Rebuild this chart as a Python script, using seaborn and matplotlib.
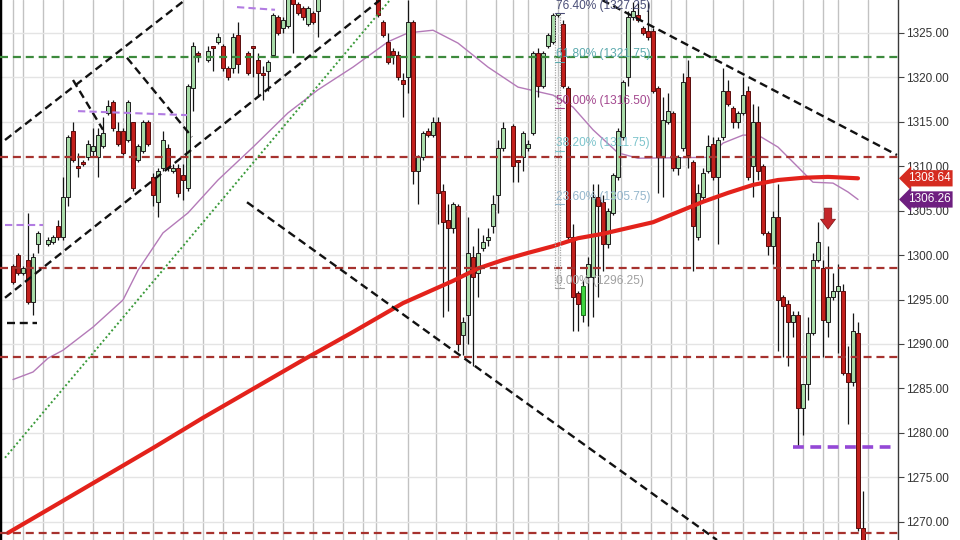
import numpy as np
import pandas as pd
import matplotlib
matplotlib.use("Agg")
import matplotlib.pyplot as plt
import seaborn as sns

# ---------------- data (bar number, OHLC) ----------------
bars = [2, 3, 4, 5, 6, 7, 9, 10, 11, 12, 13, 14, 15, 16, 17, 18, 19, 20, 21, 22,
        23, 24, 25, 26, 27, 28, 29, 30, 31, 32, 33, 34, 35, 36, 37, 38, 39, 41, 42, 43,
        44, 45, 46, 47, 49, 50, 51, 52, 53, 54, 55, 56, 57, 58, 59, 60, 61, 62, 63,
        75, 76, 77, 78, 79, 80, 81, 82, 83, 84, 85, 86, 87, 88, 89, 90, 91, 92, 93, 94,
        95, 96, 97, 98, 99, 100, 102, 103, 104, 105, 106, 107, 108, 109, 110, 111, 112,
        113, 114, 115, 116, 117, 118, 119, 120, 121, 122, 123, 124, 125, 126, 127, 128,
        129, 130, 131, 132, 133, 134, 135, 136, 137, 138, 139, 140, 141, 142, 143, 144,
        145, 146, 147, 148, 149, 150, 151, 152, 153, 154, 155, 156, 157, 158, 159, 160,
        161, 162, 163, 164, 165, 166, 167, 168, 169, 170, 171, 172]
opens = [1298.75, 1300.0, 1298.0, 1299.5, 1294.75, 1301.25, 1301.25, 1301.5, 1303.25, 1302.0,
         1306.5, 1314.0, 1310.0, 1310.5, 1311.0, 1311.75, 1311.0, 1312.25, 1316.0, 1317.25,
         1314.0, 1314.0, 1313.0, 1315.0, 1310.75, 1311.75, 1315.0, 1308.75, 1306.0, 1309.75,
         1312.0, 1309.5, 1309.75, 1309.0, 1307.5, 1318.75, 1322.75, 1322.0, 1323.5, 1324.0,
         1323.5, 1321.0, 1321.0, 1324.75, 1322.75, 1323.5, 1322.0, 1320.5, 1320.75, 1322.5,
         1326.75, 1325.5, 1325.75, 1329.25, 1328.25, 1327.75, 1326.0, 1327.25, 1327.5,
         1329.5, 1326.25, 1324.0, 1323.0, 1322.5, 1319.75, 1320.0, 1326.25, 1309.5, 1311.0,
         1314.0, 1313.5, 1315.0, 1307.25, 1304.0, 1303.0, 1305.5, 1291.0, 1293.25, 1299.75,
         1298.0, 1300.75, 1301.75, 1303.25, 1306.75, 1312.0, 1314.5, 1310.75, 1311.0, 1312.0,
         1313.75, 1322.75, 1319.0, 1323.5, 1324.0, 1327.0, 1326.0, 1318.75, 1302.0, 1295.75,
         1293.25, 1297.5, 1297.5, 1306.5, 1306.0, 1301.25, 1304.75, 1308.75, 1313.25, 1320.0,
         1326.75, 1327.0, 1325.5, 1325.25, 1325.25, 1318.75, 1311.0, 1315.0, 1316.0, 1309.75,
         1312.0, 1320.0, 1310.5, 1302.0, 1306.5, 1309.5, 1312.5, 1308.75, 1313.25, 1318.5,
         1316.5, 1315.0, 1316.0, 1318.5, 1310.0, 1315.0, 1310.0, 1302.5, 1301.0, 1304.25,
         1295.25, 1294.5, 1292.5, 1293.25, 1282.75, 1285.5, 1291.25, 1299.5, 1298.5, 1292.5,
         1295.25, 1296.0, 1296.0, 1286.75, 1285.75, 1291.25, 1269.25]
highs = [1299.0, 1300.25, 1298.75, 1304.75, 1300.25, 1302.75, 1302.0, 1302.25, 1304.0, 1308.75,
         1313.5, 1315.0, 1311.5, 1310.75, 1313.0, 1314.25, 1314.25, 1315.5, 1317.5, 1317.5,
         1315.0, 1314.25, 1317.5, 1315.0, 1312.5, 1315.25, 1315.25, 1309.25, 1309.75, 1314.0,
         1312.5, 1310.25, 1310.25, 1310.25, 1319.25, 1324.0, 1323.0, 1323.5, 1323.5, 1325.0,
         1323.75, 1321.25, 1325.0, 1326.25, 1323.0, 1323.5, 1322.75, 1321.25, 1322.0, 1327.25,
         1327.0, 1326.75, 1329.5, 1329.5, 1328.5, 1328.0, 1328.0, 1327.5, 1330.0,
         1330.0, 1326.5, 1325.0, 1323.25, 1323.0, 1320.5, 1328.75, 1326.5, 1311.25, 1314.0,
         1314.25, 1315.5, 1315.5, 1308.0, 1305.75, 1306.0, 1305.75, 1293.0, 1304.25, 1301.0,
         1303.0, 1302.25, 1303.0, 1306.75, 1313.0, 1315.0, 1314.75, 1310.75, 1314.0, 1313.0,
         1323.0, 1323.25, 1323.0, 1325.0, 1327.25, 1327.25, 1326.5, 1319.0, 1303.5, 1296.0,
         1297.25, 1299.75, 1308.0, 1308.0, 1306.75, 1305.25, 1309.25, 1314.25, 1319.75, 1327.5,
         1328.5, 1328.5, 1325.75, 1328.5, 1325.5, 1319.0, 1317.75, 1318.25, 1316.25, 1311.25,
         1320.5, 1322.0, 1310.75, 1308.0, 1309.75, 1313.5, 1313.25, 1313.25, 1321.0, 1319.75,
         1316.75, 1316.25, 1320.0, 1319.0, 1317.0, 1316.75, 1310.25, 1302.75, 1305.0, 1308.0,
         1295.5, 1295.0, 1293.75, 1293.75, 1285.5, 1293.0, 1300.25, 1303.75, 1299.5, 1301.0,
         1298.0, 1299.0, 1296.75, 1289.75, 1293.5, 1292.5, 1273.5]
lows = [1296.75, 1297.75, 1297.75, 1294.5, 1293.25, 1300.25, 1301.0, 1301.25, 1301.75, 1301.75,
        1305.5, 1310.5, 1308.75, 1310.0, 1310.75, 1311.0, 1308.75, 1312.0, 1315.75, 1314.0,
        1312.25, 1311.25, 1312.75, 1307.25, 1310.5, 1311.5, 1312.25, 1305.5, 1304.25, 1309.5,
        1309.5, 1309.25, 1306.5, 1306.25, 1307.25, 1316.25, 1321.75, 1321.75, 1320.75, 1323.75,
        1320.75, 1319.75, 1320.5, 1320.5, 1320.25, 1320.0, 1317.75, 1317.5, 1318.5, 1322.25,
        1324.75, 1325.0, 1325.5, 1322.75, 1327.0, 1326.5, 1325.75, 1326.0, 1324.5,
        1326.75, 1324.5, 1321.5, 1321.5, 1319.75, 1315.5, 1318.25, 1308.0, 1305.75, 1310.75,
        1313.25, 1313.25, 1303.5, 1293.0, 1293.75, 1302.5, 1289.25, 1288.75, 1290.0, 1287.5,
        1295.25, 1300.5, 1301.0, 1302.5, 1304.75, 1311.75, 1308.25, 1308.25, 1309.5, 1311.75,
        1313.5, 1317.75, 1318.75, 1323.25, 1323.75, 1326.75, 1318.75, 1301.75, 1291.5, 1291.5,
        1292.5, 1292.0, 1293.0, 1295.25, 1298.25, 1300.75, 1304.5, 1308.5, 1313.0, 1319.0,
        1326.5, 1326.25, 1324.75, 1324.25, 1318.25, 1307.0, 1306.5, 1314.75, 1309.5, 1309.0,
        1311.75, 1309.75, 1298.25, 1301.75, 1306.25, 1309.25, 1308.5, 1301.25, 1313.0, 1316.75,
        1314.25, 1314.25, 1315.75, 1308.5, 1306.5, 1308.5, 1302.25, 1300.0, 1299.0, 1289.25,
        1288.5, 1287.5, 1290.75, 1278.5, 1279.75, 1283.75, 1291.0, 1299.25, 1288.5, 1290.75,
        1295.0, 1289.0, 1286.5, 1281.0, 1285.25, 1269.0, 1267.0]
closes = [1297.0, 1298.0, 1298.5, 1294.75, 1299.75, 1302.5, 1301.75, 1302.0, 1302.0, 1306.5,
          1313.25, 1310.75, 1309.75, 1310.25, 1312.5, 1312.25, 1313.5, 1313.75, 1316.75, 1314.25,
          1312.5, 1311.5, 1317.25, 1307.5, 1312.25, 1315.0, 1312.5, 1306.75, 1309.5, 1313.0,
          1309.75, 1309.75, 1307.0, 1308.5, 1319.0, 1323.5, 1322.5, 1323.0, 1323.25, 1324.5,
          1321.0, 1320.0, 1324.5, 1321.5, 1320.5, 1323.25, 1320.5, 1320.25, 1321.75, 1327.0,
          1325.0, 1326.5, 1329.0, 1328.25, 1327.25, 1326.75, 1327.75, 1326.25, 1329.25,
          1327.0, 1324.75, 1321.75, 1322.5, 1320.0, 1319.25, 1326.25, 1309.5, 1311.0, 1313.75,
          1313.5, 1315.0, 1307.0, 1303.75, 1303.0, 1305.75, 1290.0, 1292.5, 1300.25, 1297.5,
          1300.25, 1301.5, 1302.0, 1305.75, 1312.0, 1314.25, 1310.0, 1310.5, 1313.75, 1312.5,
          1322.75, 1319.0, 1322.75, 1324.75, 1327.0, 1327.25, 1319.0, 1302.0, 1295.25, 1294.5,
          1296.5, 1299.0, 1306.5, 1305.5, 1301.25, 1305.0, 1309.0, 1314.0, 1319.5, 1326.75,
          1327.5, 1326.5, 1325.0, 1324.5, 1318.5, 1311.0, 1315.25, 1316.25, 1309.75, 1311.0,
          1319.5, 1311.25, 1303.25, 1307.0, 1309.25, 1312.25, 1308.75, 1313.0, 1318.5, 1317.0,
          1315.0, 1316.0, 1318.0, 1308.75, 1315.0, 1309.5, 1302.5, 1301.0, 1304.25, 1295.0,
          1294.25, 1292.5, 1293.25, 1282.75, 1285.5, 1291.25, 1299.5, 1301.5, 1292.75, 1295.25,
          1296.0, 1296.5, 1286.75, 1285.75, 1291.5, 1269.25, 1267.25]
highlight_bar = 116

# slow (200) moving average, read at sample bars
ma_slow_bars = [1, 10, 20, 30, 40, 50, 60, 70, 80, 90, 95, 100, 105, 110, 115, 120, 125,
                130, 135, 140, 145, 150, 155, 160, 165, 171]
ma_slow = [1268.75, 1271.7, 1275.0, 1278.3, 1281.7, 1284.95, 1288.2, 1291.35, 1294.6, 1297.1,
           1298.5, 1299.45, 1300.25, 1301.0, 1301.9, 1302.4, 1303.05, 1303.7, 1304.85, 1306.0,
           1307.0, 1307.9, 1308.45, 1308.7, 1308.8, 1308.64]
# fast moving average
ma_fast_bars = [2, 6, 9, 12, 18, 24, 27, 32, 37, 43, 50, 57, 63, 70, 77, 81, 86, 91, 97, 103,
                110, 114, 118, 123, 127, 141, 144, 148, 151, 155, 159, 162, 166, 169, 171]
ma_fast = [1286.0, 1286.85, 1288.4, 1289.3, 1291.9, 1294.95, 1298.3, 1302.5, 1304.75, 1308.45,
           1312.15, 1316.0, 1318.6, 1321.15, 1324.0, 1325.0, 1325.3, 1323.85, 1321.15, 1318.9,
           1318.0, 1316.65, 1314.1, 1311.5, 1310.9, 1311.0, 1312.6, 1313.5, 1313.5, 1312.15,
           1309.9, 1308.2, 1308.1, 1307.1, 1306.26]

green_level = 1322.25
red_levels = [1311.0, 1298.5, 1288.5, 1268.75]

# trend lines: (bar0, price0, bar1, price1)
black_lines = [(0.4, 1312.95, 36.4, 1328.7), (0.4, 1295.2, 75.4, 1328.7),
               (14.0, 1319.7, 20.0, 1314.1), (24.8, 1322.2, 37.8, 1313.3),
               (48.8, 1305.95, 142.8, 1267.95), (0.8, 1292.35, 6.8, 1292.35),
               (119.8, 1328.7, 178.8, 1311.26)]
green_dotted = (0.4, 1277.2, 77.4, 1328.7)
purple_marks = [(0.4, 1303.4, 8.0, 1303.4), (15.0, 1316.2, 36.8, 1315.75),
                (46.8, 1327.9, 54.4, 1327.6)]
purple_support = (158, 1278.4, 178, 1278.4)

fib_labels = ["76.40% (1327.25)", "61.80% (1321.75)", "50.00% (1316.50)",
              "38.20% (1311.75)", "23.60% (1305.75)", "0.00% (1296.25)"]
fib_prices = [1327.25, 1321.75, 1316.50, 1311.75, 1305.75, 1296.25]
fib_colors = ["#4a4e78", "#5aa9ad", "#a3468e", "#7cc4cc", "#94b6cc", "#a0a0a0"]
fib_bar = 110.7

grid_bars = [2, 4, 8, 12, 18, 24, 30, 36, 40, 44, 50, 56, 62, 68, 72, 74.5, 81, 86.5, 92.5,
             98.5, 102, 105, 111, 117, 123.5, 129.5, 133.5, 136.5, 142, 148, 154, 160, 164,
             167, 173]
y_ticks = [1270, 1275, 1280, 1285, 1290, 1295, 1300, 1305, 1310, 1315, 1320, 1325]
tag_last_slow = 1308.64
tag_last_fast = 1306.26
signal_bar = 165
signal_top, signal_tip = 1305.6, 1302.6

# ---------------- drawing ----------------
sns.set_theme(style="white")
plt.rcParams["font.family"] = ["Liberation Sans", "DejaVu Sans"]

fig = plt.figure(figsize=(9.6, 5.4), dpi=100)
ax = fig.add_axes([0, 0, 898 / 960, 1])
ax.set_facecolor("white")
ax.set_xlim(-0.6, 179)
ax.set_ylim(1267.95, 1328.7)

for gb in grid_bars:
    ax.axvline(gb, color="#c2c2c2", lw=1.0, zorder=0)
for yt in y_ticks:
    ax.axhline(yt, color="#e4e4e4", lw=1.0, zorder=0)

df = pd.DataFrame({"bar": bars, "open": opens, "high": highs, "low": lows, "close": closes})
ax.vlines(df["bar"], df["low"], df["high"], color="#151515", lw=0.9, zorder=3)
for _, r in df.iterrows():
    up = r["close"] >= r["open"]
    if r["bar"] == highlight_bar:
        fc, ec = "#3fd43f", "#1e6e1e"
    elif up:
        fc, ec = "#a8dba8", "#1d1d1d"
    else:
        fc, ec = "#c3201c", "#5a0c0c"
    h = max(abs(r["close"] - r["open"]), 0.18)
    ax.bar(r["bar"], h, bottom=min(r["open"], r["close"]), width=0.86,
           color=fc, edgecolor=ec, linewidth=0.7, zorder=3.5)

sns.lineplot(x=ma_fast_bars, y=ma_fast, ax=ax, color="#b47ab8", lw=1.0, zorder=2.8)
sns.lineplot(x=ma_slow_bars, y=ma_slow, ax=ax, color="#e3221b", lw=3.0, zorder=4.2)

ax.axhline(green_level, color="#3c8a3c", lw=1.6, ls=(0, (3.6, 2.2)), zorder=5)
for lv in red_levels:
    ax.axhline(lv, color="#a6322e", lw=1.6, ls=(0, (3.6, 2.2)), zorder=5)

for (b0, p0, b1, p1) in black_lines:
    ax.plot([b0, b1], [p0, p1], color="#111111", lw=1.7, ls=(0, (3.4, 2.0)), zorder=5)
b0, p0, b1, p1 = green_dotted
ax.plot([b0, b1], [p0, p1], color="#3a9a3a", lw=1.4, ls=(0, (1, 1.3)), zorder=5)
for (b0, p0, b1, p1) in purple_marks:
    ax.plot([b0, b1], [p0, p1], color="#b27ce2", lw=1.5, ls=(0, (3.5, 2)), zorder=5)
b0, p0, b1, p1 = purple_support
ax.plot([b0, b1], [p0, p1], color="#9448d6", lw=2.6, ls=(0, (3.0, 1.8)), zorder=5)

# fibonacci bracket and labels
ax.plot([fib_bar - 0.4, fib_bar - 0.4], [fib_prices[-1], fib_prices[0]], color="#a8a8a8",
        lw=0.9, ls=(0, (1, 1)), zorder=5)
ax.plot([fib_bar + 0.6, fib_bar + 0.6], [fib_prices[-1], fib_prices[0]], color="#a8a8a8",
        lw=0.9, ls=(0, (1, 1)), zorder=5)
for lab, pr, col in zip(fib_labels, fib_prices, fib_colors):
    ax.plot([fib_bar - 0.4, fib_bar + 1.4], [pr, pr], color=col, lw=0.8, zorder=5)
    ax.text(fib_bar, pr + 0.15, lab, color=col, fontsize=8.6, ha="left", va="bottom", zorder=6)

# signal arrow
ax.annotate("", xy=(signal_bar, signal_tip), xytext=(signal_bar, signal_top),
            arrowprops=dict(arrowstyle="simple,head_width=0.9,head_length=0.6,tail_width=0.45",
                            fc="#c4262a", ec="#7a1212", lw=0.5), zorder=6)

# axes styling
for side in ["top", "bottom"]:
    ax.spines[side].set_visible(False)
ax.spines["left"].set_color("black")
ax.spines["left"].set_linewidth(2.5)
ax.spines["right"].set_color("#3a3a3a")
ax.spines["right"].set_linewidth(1.0)
ax.set_xticks([])
ax.yaxis.tick_right()
ax.set_yticks(y_ticks)
ax.set_yticklabels([f"{v:.2f}" for v in y_ticks])
ax.tick_params(axis="y", right=True, length=4, width=0.8, color="#444444",
               labelsize=8.5, labelcolor="#333333", pad=2)

# last value tags
for val, col in [(tag_last_slow, "#d52b20"), (tag_last_fast, "#6e1f80")]:
    ax.annotate(f"{val:.2f}", xy=(1.0, val), xycoords=("axes fraction", "data"),
                xytext=(7, 0), textcoords="offset points", ha="left", va="center",
                fontsize=8.5, color="white", annotation_clip=False,
                bbox=dict(boxstyle="larrow,pad=0.18", fc=col, ec="none"), zorder=10)

fig.savefig("out.png", dpi=100)
